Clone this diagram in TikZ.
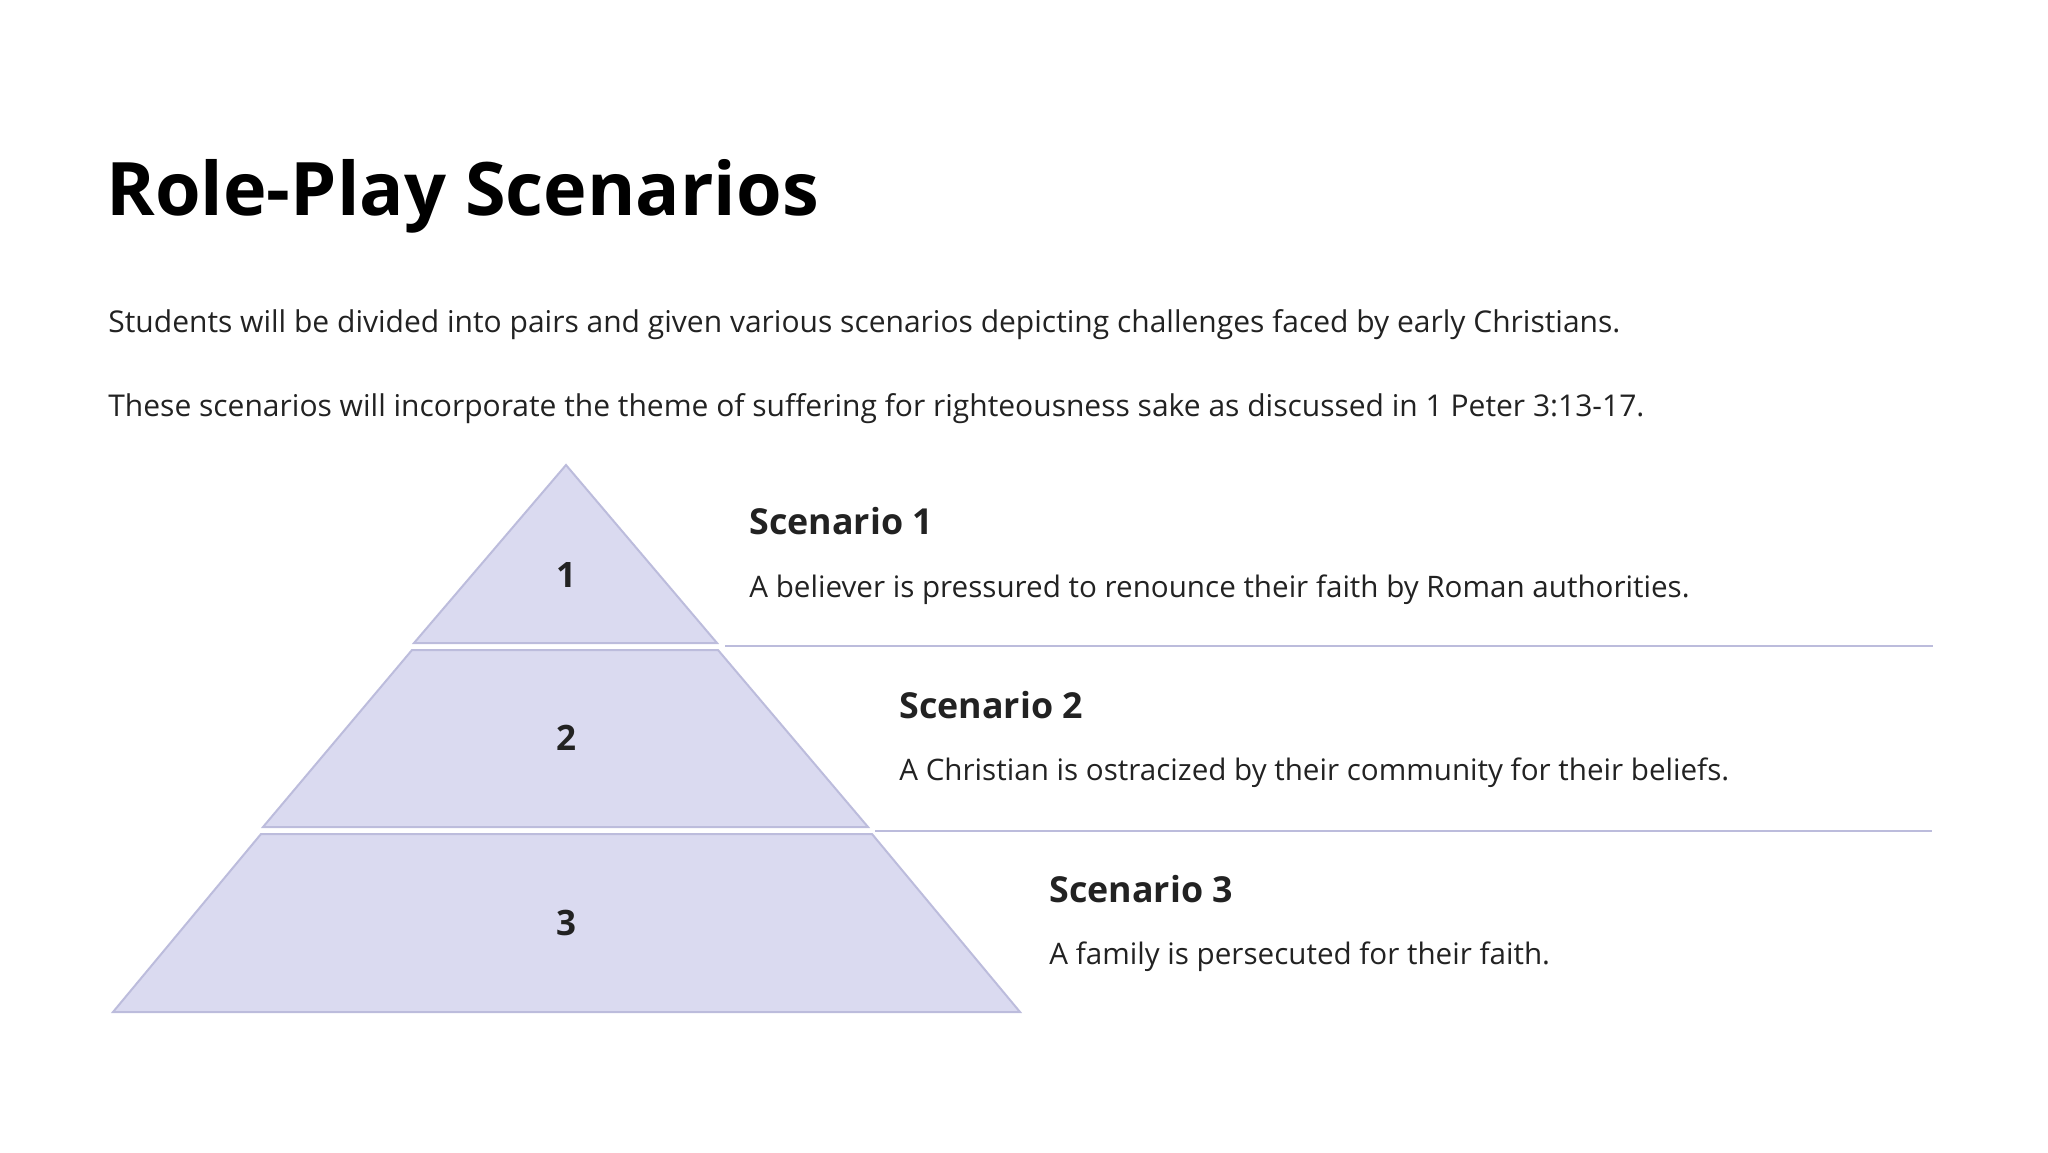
\documentclass[tikz,border=0pt]{standalone}
\usepackage{fontspec}
\setmainfont{Open Sans}
\definecolor{tierfill}{RGB}{218,218,240}
\definecolor{tierline}{RGB}{188,188,220}
\definecolor{inkdark}{RGB}{34,34,34}

\begin{document}
\begin{tikzpicture}[
    x=0.5pt, y=-0.5pt,
    % pyramid styles
    tier/.style={fill=tierfill, draw=tierline, line width=1pt, line join=miter},
    sepline/.style={draw=tierline, line width=1pt},
    num/.style={font=\fontsize{17.5}{21}\selectfont\bfseries, text=inkdark, inner sep=0pt},
    % text styles
    titletext/.style={font=\fontsize{36.9}{44}\selectfont\bfseries, text=black, anchor=base west, inner sep=0pt},
    bodytext/.style={font=\fontsize{15}{18}\selectfont, text=inkdark, anchor=base west, inner sep=0pt},
    heading/.style={font=\fontsize{17.9}{21}\selectfont\bfseries, text=inkdark, anchor=base west, inner sep=0pt},
    desc/.style={font=\fontsize{14.8}{18}\selectfont, text=inkdark, anchor=base west, inner sep=0pt},
]
\useasboundingbox (0,0) rectangle (2048,1152);

% Title and intro
\node[titletext] (title) at (106,215) {Role-Play Scenarios};
\node[bodytext] (intro1) at (108,332) {Students will be divided into pairs and given various scenarios depicting challenges faced by early Christians.};
\node[bodytext] (intro2) at (108,416) {These scenarios will incorporate the theme of suffering for righteousness sake as discussed in 1 Peter 3:13-17.};

% === PYRAMID ===
\path[tier] (566,465) -- (717,643) -- (414,643) -- cycle;
\path[tier] (412,650) -- (718,650) -- (868,827) -- (263,827) -- cycle;
\path[tier] (261,834) -- (872,834) -- (1020,1012) -- (113,1012) -- cycle;

\node[num] (n1) at (566,575) {1};
\node[num] (n2) at (566,738) {2};
\node[num] (n3) at (566,923) {3};

% separators
\coordinate (s1a) at (725,646);
\coordinate (s1b) at (1933,646);
\coordinate (s2a) at (875,831);
\coordinate (s2b) at (1932,831);
\draw[sepline] (s1a) -- (s1b);
\draw[sepline] (s2a) -- (s2b);

% === SCENARIOS ===
\node[heading] (head1) at (749,534) {Scenario 1};
\node[desc] (desc1) at (749,597) {A believer is pressured to renounce their faith by Roman authorities.};

\node[heading] (head2) at (899,718) {Scenario 2};
\node[desc] (desc2) at (899,780) {A Christian is ostracized by their community for their beliefs.};

\node[heading] (head3) at (1049,902) {Scenario 3};
\node[desc] (desc3) at (1049,964) {A family is persecuted for their faith.};

\end{tikzpicture}
\end{document}
